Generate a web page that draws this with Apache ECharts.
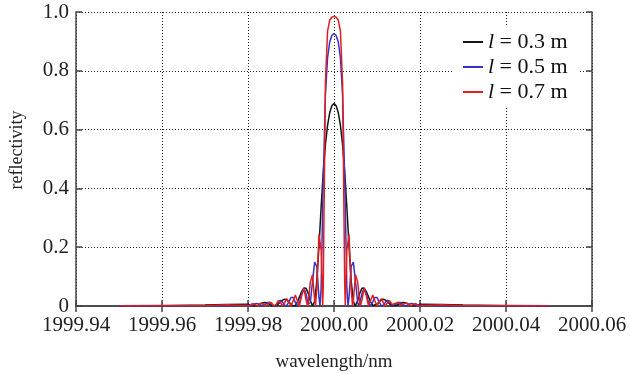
<!DOCTYPE html>
<html>
<head>
<meta charset="utf-8">
<script src="https://cdn.jsdelivr.net/npm/echarts@6/dist/echarts.min.js"></script>
<style>
html,body{margin:0;padding:0;background:#fff;}
#chart{width:630px;height:374px;}
</style>
</head>
<body>
<div id="chart"></div>
<script>
// wavelength grid (nm)
const wavelength = [1999.95, 1999.96, 1999.97, 1999.975,
  1999.98, 1999.9805, 1999.981, 1999.9815, 1999.982, 1999.9825, 1999.983, 1999.9835, 1999.984, 1999.9845,
  1999.985, 1999.9855, 1999.986, 1999.9865, 1999.987, 1999.9875, 1999.988, 1999.9885, 1999.989, 1999.9895,
  1999.99, 1999.9905, 1999.991, 1999.9915, 1999.992, 1999.9925, 1999.993, 1999.9935, 1999.994, 1999.9945,
  1999.995, 1999.9955, 1999.996, 1999.9965, 1999.997, 1999.9975, 1999.998, 1999.9985, 1999.999, 1999.9995,
  2000.0,
  2000.0005, 2000.001, 2000.0015, 2000.002, 2000.0025, 2000.003, 2000.0035, 2000.004, 2000.0045, 2000.005,
  2000.0055, 2000.006, 2000.0065, 2000.007, 2000.0075, 2000.008, 2000.0085, 2000.009, 2000.0095, 2000.01,
  2000.0105, 2000.011, 2000.0115, 2000.012, 2000.0125, 2000.013, 2000.0135, 2000.014, 2000.0145, 2000.015,
  2000.0155, 2000.016, 2000.0165, 2000.017, 2000.0175, 2000.018, 2000.0185, 2000.019, 2000.0195, 2000.02,
  2000.025, 2000.03, 2000.04, 2000.05];

// reflectivity, l = 0.3 m
const refl03 = [0.001, 0.001, 0.003, 0.005,
  0.006,0.003,0.001,0.000,0.001,0.004,0.008,0.011,0.012,0.010,0.006,0.002,0.000,0.001,0.006,0.013,0.020,0.023,0.021,0.014,
  0.006,0.000,0.002,0.014,0.032,0.050,0.061,0.060,0.044,0.018,0.001,0.016,0.085,0.201,0.334,0.454,0.548,0.614,0.657,0.681,
  0.689,
  0.681,0.657,0.614,0.548,0.454,0.334,0.201,0.085,0.016,0.001,0.018,0.044,0.060,0.061,0.050,0.032,0.014,0.002,0.000,0.006,
  0.014,0.021,0.023,0.020,0.013,0.006,0.001,0.000,0.002,0.006,0.010,0.012,0.011,0.008,0.004,0.001,0.000,0.001,0.003,0.006,
  0.005, 0.003, 0.001, 0.001];

// reflectivity, l = 0.5 m
const refl05 = [0.001, 0.002, 0.001, 0.000,
  0.003,0.000,0.002,0.007,0.009,0.007,0.002,0.000,0.005,0.012,0.012,0.006,0.000,0.003,0.013,0.019,0.014,0.003,0.001,0.014,
  0.029,0.029,0.013,0.000,0.013,0.044,0.061,0.042,0.006,0.012,0.083,0.149,0.135,0.031,0.059,0.426,0.716,0.844,0.898,0.920,
  0.927,
  0.920,0.898,0.844,0.716,0.426,0.059,0.031,0.135,0.149,0.083,0.012,0.006,0.042,0.061,0.044,0.013,0.000,0.013,0.029,0.029,
  0.014,0.001,0.003,0.014,0.019,0.013,0.003,0.000,0.006,0.012,0.012,0.005,0.000,0.002,0.007,0.009,0.007,0.002,0.000,0.003,
  0.000, 0.001, 0.002, 0.001];

// reflectivity, l = 0.7 m
const refl07 = [0.000, 0.001, 0.001, 0.004,
  0.001,0.002,0.008,0.007,0.001,0.003,0.010,0.008,0.001,0.004,0.013,0.010,0.000,0.005,0.017,0.013,0.001,0.010,0.025,0.014,
  0.000,0.018,0.037,0.018,0.001,0.036,0.060,0.021,0.007,0.082,0.106,0.018,0.058,0.244,0.192,0.066,0.756,0.934,0.972,0.982,
  0.985,
  0.982,0.972,0.934,0.756,0.066,0.192,0.244,0.058,0.018,0.106,0.082,0.007,0.021,0.060,0.036,0.001,0.018,0.037,0.018,0.000,
  0.014,0.025,0.010,0.001,0.013,0.017,0.005,0.000,0.010,0.013,0.004,0.001,0.008,0.010,0.003,0.001,0.007,0.008,0.002,0.001,
  0.004, 0.001, 0.001, 0.000];

// wavelengths where each spectrum touches zero (between lobes)
const zeros03 = [1999.98152, 1999.98609, 1999.99064, 1999.99508, 2000.00492, 2000.00936, 2000.01391, 2000.01848];
const zeros05 = [1999.9806, 1999.98335, 1999.98609, 1999.98883, 1999.99154, 1999.99421, 1999.99674,
  2000.00326, 2000.00579, 2000.00846, 2000.01117, 2000.01391, 2000.01665, 2000.0194];
const zeros07 = [1999.98021, 1999.98217, 1999.98413, 1999.98609, 1999.98805, 1999.98999, 1999.99193, 1999.99384, 1999.99569, 1999.99737,
  2000.00263, 2000.00431, 2000.00616, 2000.00807, 2000.01001, 2000.01195, 2000.01391, 2000.01587, 2000.01783, 2000.01979];

const seriesNames = ['l = 0.3 m', 'l = 0.5 m', 'l = 0.7 m'];
const seriesColors = ['#151515', '#3333cc', '#e41e1e'];

const xTicks = { min: 1999.94, max: 2000.06, step: 0.02 };
const yTicks = { min: 0, max: 1, step: 0.2 };

function build(values, zeros) {
  const pts = wavelength.map((w, i) => [w, values[i]]);
  zeros.forEach(w => pts.push([w, 0]));
  pts.sort((a, b) => a[0] - b[0]);
  return pts;
}

const FONT = '"Liberation Serif", "Times New Roman", serif';
const axisColor = '#444';
const gridLine = { show: true, lineStyle: { color: '#222', width: 1, type: [1, 2] } };

const chart = echarts.init(document.getElementById('chart'), null, { renderer: 'canvas' });
chart.setOption({
  animation: false,
  backgroundColor: '#fff',
  grid: { left: 76, right: 38, top: 12, bottom: 68, containLabel: false, outerBoundsMode: 'none' },
  xAxis: [{
    type: 'value', min: xTicks.min, max: xTicks.max, interval: xTicks.step,
    name: 'wavelength/nm', nameLocation: 'middle', nameGap: 47,
    nameTextStyle: { fontFamily: FONT, fontSize: 19, color: '#222' },
    axisLine: { show: true, lineStyle: { color: axisColor, width: 1.5 } },
    axisTick: { show: true, inside: true, length: 6, lineStyle: { color: axisColor, width: 1.5 } },
    axisLabel: { fontFamily: FONT, fontSize: 21, color: '#222', margin: 9,
      formatter: v => v.toFixed(2) },
    splitLine: gridLine
  }, {
    type: 'value', position: 'top', min: xTicks.min, max: xTicks.max, interval: xTicks.step,
    axisLine: { show: true, lineStyle: { color: axisColor, width: 1.5 } },
    axisTick: { show: true, inside: true, length: 6, lineStyle: { color: axisColor, width: 1.5 } },
    axisLabel: { show: false }, splitLine: { show: false }
  }],
  yAxis: [{
    type: 'value', min: yTicks.min, max: yTicks.max, interval: yTicks.step,
    name: 'reflectivity', nameLocation: 'middle', nameGap: 50,
    nameTextStyle: { fontFamily: FONT, fontSize: 18, color: '#222', padding: [0, 0, 0, 18] },
    axisLine: { show: true, lineStyle: { color: axisColor, width: 1.5 } },
    axisTick: { show: true, inside: true, length: 6, lineStyle: { color: axisColor, width: 1.5 } },
    axisLabel: { fontFamily: FONT, fontSize: 21, color: '#222', margin: 7,
      formatter: v => (v === 0 ? '0' : v.toFixed(1)) },
    splitLine: gridLine
  }, {
    type: 'value', position: 'right', min: yTicks.min, max: yTicks.max, interval: yTicks.step,
    axisLine: { show: true, lineStyle: { color: axisColor, width: 1.5 } },
    axisTick: { show: true, inside: true, length: 6, lineStyle: { color: axisColor, width: 1.5 } },
    axisLabel: { show: false }, splitLine: { show: false }
  }],
  legend: {
    orient: 'vertical', left: 452, top: 26,
    backgroundColor: '#fff',
    padding: [5, 11, 5, 11],
    itemWidth: 20, itemHeight: 2, itemGap: 3,
    icon: 'rect',
    textStyle: { fontFamily: FONT, fontSize: 22, color: '#111',
      rich: { i: { fontFamily: FONT, fontSize: 22, fontStyle: 'italic', color: '#111' } } },
    formatter: name => '{i|l}' + name.slice(1),
    data: seriesNames
  },
  series: [
    { name: seriesNames[0], type: 'line', data: build(refl03, zeros03), showSymbol: false, symbol: 'none',
      lineStyle: { color: seriesColors[0], width: 1.5 }, itemStyle: { color: seriesColors[0] } },
    { name: seriesNames[1], type: 'line', data: build(refl05, zeros05), showSymbol: false, symbol: 'none',
      lineStyle: { color: seriesColors[1], width: 1.5 }, itemStyle: { color: seriesColors[1] } },
    { name: seriesNames[2], type: 'line', data: build(refl07, zeros07), showSymbol: false, symbol: 'none',
      lineStyle: { color: seriesColors[2], width: 1.5 }, itemStyle: { color: seriesColors[2] } }
  ]
});
</script>
</body>
</html>
